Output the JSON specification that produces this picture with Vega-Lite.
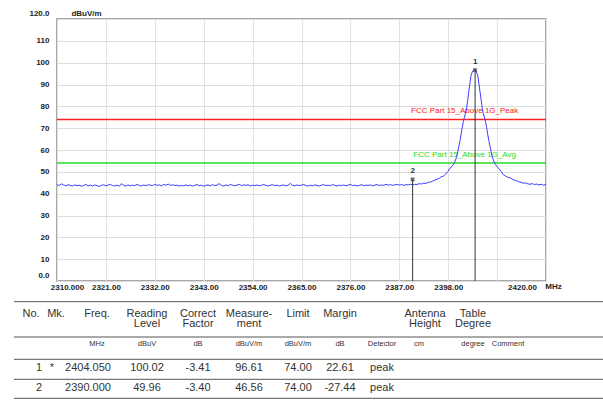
{
  "$schema": "https://vega.github.io/schema/vega-lite/v6.json",
  "padding": {"left": 13, "top": 8, "right": 0, "bottom": 0},
  "background": "white",
  "bounds": "flush",
  "spacing": 20,
  "config": {"font": "Liberation Sans", "view": {"stroke": null}, "axis": {"labelOverlap": false, "labelBound": false, "labelFlush": false}},
  "resolve": {"scale": {"x": "independent", "y": "independent"}},
  "datasets": {
    "trace": [
      {"f":2310,"v":44.2},{"f":2310.5,"v":43.7},{"f":2311,"v":44.5},{"f":2311.5,"v":44.0},{"f":2312,"v":43.6},{"f":2312.5,"v":44.1},{"f":2313,"v":43.8},{"f":2313.5,"v":43.5},{"f":2314,"v":44.0},{"f":2314.5,"v":43.7},
      {"f":2315,"v":43.9},{"f":2315.5,"v":43.4},{"f":2316,"v":43.8},{"f":2316.5,"v":44.2},{"f":2317,"v":43.6},{"f":2317.5,"v":43.9},{"f":2318,"v":43.5},{"f":2318.5,"v":44.0},{"f":2319,"v":43.7},{"f":2319.5,"v":43.3},
      {"f":2320,"v":43.8},{"f":2320.5,"v":44.1},{"f":2321,"v":43.6},{"f":2321.5,"v":43.9},{"f":2322,"v":44.3},{"f":2322.5,"v":43.7},{"f":2323,"v":43.5},{"f":2323.5,"v":43.9},{"f":2324,"v":43.4},{"f":2324.5,"v":44.6},
      {"f":2325,"v":43.8},{"f":2325.5,"v":43.5},{"f":2326,"v":44.0},{"f":2326.5,"v":43.6},{"f":2327,"v":43.9},{"f":2327.5,"v":43.7},{"f":2328,"v":44.2},{"f":2328.5,"v":43.8},{"f":2329,"v":43.5},{"f":2329.5,"v":44.0},
      {"f":2330,"v":43.6},{"f":2330.5,"v":44.1},{"f":2331,"v":43.9},{"f":2331.5,"v":43.7},{"f":2332,"v":44.3},{"f":2332.5,"v":43.8},{"f":2333,"v":44.0},{"f":2333.5,"v":43.6},{"f":2334,"v":44.2},{"f":2334.5,"v":43.9},
      {"f":2335,"v":44.4},{"f":2335.5,"v":43.8},{"f":2336,"v":44.1},{"f":2336.5,"v":43.7},{"f":2337,"v":43.9},{"f":2337.5,"v":43.5},{"f":2338,"v":43.8},{"f":2338.5,"v":43.6},{"f":2339,"v":44.0},{"f":2339.5,"v":43.7},
      {"f":2340,"v":43.9},{"f":2340.5,"v":43.5},{"f":2341,"v":43.8},{"f":2341.5,"v":44.2},{"f":2342,"v":43.6},{"f":2342.5,"v":43.9},{"f":2343,"v":43.4},{"f":2343.5,"v":43.8},{"f":2344,"v":44.0},{"f":2344.5,"v":43.6},
      {"f":2345,"v":44.1},{"f":2345.5,"v":43.7},{"f":2346,"v":43.9},{"f":2346.5,"v":44.6},{"f":2347,"v":43.8},{"f":2347.5,"v":43.5},{"f":2348,"v":44.0},{"f":2348.5,"v":43.7},{"f":2349,"v":44.2},{"f":2349.5,"v":43.9},
      {"f":2350,"v":43.6},{"f":2350.5,"v":43.9},{"f":2351,"v":44.3},{"f":2351.5,"v":43.7},{"f":2352,"v":44.0},{"f":2352.5,"v":43.8},{"f":2353,"v":44.1},{"f":2353.5,"v":43.5},{"f":2354,"v":43.9},{"f":2354.5,"v":43.7},
      {"f":2355,"v":44.0},{"f":2355.5,"v":43.6},{"f":2356,"v":43.9},{"f":2356.5,"v":44.2},{"f":2357,"v":43.8},{"f":2357.5,"v":43.5},{"f":2358,"v":43.9},{"f":2358.5,"v":44.1},{"f":2359,"v":43.7},{"f":2359.5,"v":43.9},
      {"f":2360,"v":43.5},{"f":2360.5,"v":43.8},{"f":2361,"v":44.0},{"f":2361.5,"v":43.6},{"f":2362,"v":43.9},{"f":2362.5,"v":44.7},{"f":2363,"v":43.8},{"f":2363.5,"v":43.6},{"f":2364,"v":44.0},{"f":2364.5,"v":43.7},
      {"f":2365,"v":43.9},{"f":2365.5,"v":44.2},{"f":2366,"v":43.7},{"f":2366.5,"v":43.5},{"f":2367,"v":43.9},{"f":2367.5,"v":43.6},{"f":2368,"v":44.0},{"f":2368.5,"v":43.8},{"f":2369,"v":43.5},{"f":2369.5,"v":43.9},
      {"f":2370,"v":44.1},{"f":2370.5,"v":43.7},{"f":2371,"v":43.9},{"f":2371.5,"v":43.6},{"f":2372,"v":44.2},{"f":2372.5,"v":43.8},{"f":2373,"v":43.5},{"f":2373.5,"v":43.9},{"f":2374,"v":43.7},{"f":2374.5,"v":44.0},
      {"f":2375,"v":43.6},{"f":2375.5,"v":43.9},{"f":2376,"v":44.3},{"f":2376.5,"v":43.7},{"f":2377,"v":43.9},{"f":2377.5,"v":43.5},{"f":2378,"v":43.8},{"f":2378.5,"v":44.1},{"f":2379,"v":43.7},{"f":2379.5,"v":43.9},
      {"f":2380,"v":43.8},{"f":2380.5,"v":44.0},{"f":2381,"v":43.6},{"f":2381.5,"v":43.9},{"f":2382,"v":44.2},{"f":2382.5,"v":43.7},{"f":2383,"v":44.0},{"f":2383.5,"v":43.8},{"f":2384,"v":44.3},{"f":2384.5,"v":43.9},
      {"f":2385,"v":44.1},{"f":2385.5,"v":43.8},{"f":2386,"v":44.0},{"f":2386.5,"v":44.3},{"f":2387,"v":43.9},{"f":2387.5,"v":44.2},{"f":2388,"v":43.8},{"f":2388.5,"v":44.1},{"f":2389,"v":44.0},{"f":2389.5,"v":44.3},
      {"f":2390,"v":44.0},{"f":2390.5,"v":44.3},{"f":2391,"v":44.2},{"f":2391.5,"v":44.6},{"f":2392,"v":44.4},{"f":2392.5,"v":44.8},{"f":2393,"v":44.7},{"f":2393.5,"v":45.2},{"f":2394,"v":45.3},{"f":2394.5,"v":45.8},
      {"f":2395,"v":46.2},{"f":2395.5,"v":46.6},{"f":2396,"v":47.1},{"f":2396.4,"v":47.7},{"f":2396.9,"v":48.0},{"f":2397.4,"v":48.9},{"f":2397.9,"v":50.1},{"f":2398.4,"v":51.6},{"f":2398.9,"v":52.6},{"f":2399.15,"v":53.3},
      {"f":2399.4,"v":54.2},{"f":2399.65,"v":55.4},{"f":2399.9,"v":57.0},{"f":2400.15,"v":59.2},{"f":2400.4,"v":61.8},{"f":2400.65,"v":64.1},{"f":2400.9,"v":67.2},{"f":2401.15,"v":70.2},{"f":2401.4,"v":73.0},{"f":2401.65,"v":74.9},
      {"f":2401.9,"v":76.9},{"f":2402.15,"v":79.4},{"f":2402.4,"v":83.0},{"f":2402.65,"v":87.0},{"f":2402.9,"v":90.8},{"f":2403.15,"v":94.3},{"f":2403.4,"v":95.6},{"f":2403.65,"v":96.5},{"f":2403.9,"v":97.0},{"f":2404.15,"v":96.4},
      {"f":2404.4,"v":95.5},{"f":2404.65,"v":94.0},{"f":2404.9,"v":90.5},{"f":2405.15,"v":86.8},{"f":2405.4,"v":83.2},{"f":2405.65,"v":79.1},{"f":2405.9,"v":76.6},{"f":2406.15,"v":75.1},{"f":2406.4,"v":72.8},{"f":2406.65,"v":70.4},
      {"f":2406.9,"v":67.0},{"f":2407.15,"v":64.3},{"f":2407.4,"v":61.6},{"f":2407.65,"v":59.4},{"f":2407.9,"v":56.8},{"f":2408.15,"v":55.6},{"f":2408.4,"v":54.1},{"f":2408.65,"v":53.4},{"f":2408.9,"v":52.5},{"f":2409.4,"v":51.5},
      {"f":2409.9,"v":50.2},{"f":2410.4,"v":48.7},{"f":2410.9,"v":48.1},{"f":2411.4,"v":47.5},{"f":2411.9,"v":47.3},{"f":2412.4,"v":46.6},{"f":2412.9,"v":46.2},{"f":2413.4,"v":45.9},{"f":2413.9,"v":45.4},{"f":2414.4,"v":45.2},
      {"f":2414.9,"v":44.8},{"f":2415.4,"v":44.9},{"f":2415.9,"v":44.5},{"f":2416.4,"v":44.3},{"f":2416.9,"v":44.6},{"f":2417.4,"v":44.2},{"f":2417.9,"v":44.4},{"f":2418.4,"v":44.0},{"f":2418.9,"v":44.3},{"f":2419.4,"v":43.9},
      {"f":2420,"v":44.2}
    ],
    "limits": [
      {"name": "FCC Part 15_Above 1G_Peak", "lim": 74},
      {"name": "FCC Part 15_Above 1G_Avg", "lim": 54}
    ],
    "markers": [
      {"mk": "1", "f": 2404.05, "v": 96.61},
      {"mk": "2", "f": 2390.0, "v": 46.56}
    ],
    "lines": [{"r": 0}, {"r": 3}, {"r": 5}, {"r": 7}, {"r": 9}],
    "cells": [
      {"r": 1, "c": 1, "t": "No."}, {"r": 1, "c": 4, "t": "Mk."}, {"r": 1, "c": 6, "t": "Freq."},
      {"r": 1, "c": 7, "t": "Reading"}, {"r": 1, "c": 8, "t": "Correct"}, {"r": 1, "c": 9, "t": "Measure-"},
      {"r": 1, "c": 10, "t": "Limit"}, {"r": 1, "c": 11, "t": "Margin"}, {"r": 1, "c": 14, "t": "Antenna"},
      {"r": 1, "c": 15, "t": "Table"},
      {"r": 2, "c": 7, "t": "Level"}, {"r": 2, "c": 8, "t": "Factor"}, {"r": 2, "c": 9, "t": "ment"},
      {"r": 2, "c": 14, "t": "Height"}, {"r": 2, "c": 15, "t": "Degree"},
      {"r": 4, "c": 6, "t": "MHz"}, {"r": 4, "c": 7, "t": "dBuV"}, {"r": 4, "c": 8, "t": "dB"},
      {"r": 4, "c": 9, "t": "dBuV/m"}, {"r": 4, "c": 10, "t": "dBuV/m"}, {"r": 4, "c": 11, "t": "dB"},
      {"r": 4, "c": 12, "t": "Detector"}, {"r": 4, "c": 13, "t": "cm"}, {"r": 4, "c": 15, "t": "degree"},
      {"r": 4, "c": 16, "t": "Comment"},
      {"r": 6, "c": 2, "t": "1"}, {"r": 6, "c": 3, "t": "*"}, {"r": 6, "c": 5, "t": "2404.050"},
      {"r": 6, "c": 7, "t": "100.02"}, {"r": 6, "c": 8, "t": "-3.41"}, {"r": 6, "c": 9, "t": "96.61"},
      {"r": 6, "c": 10, "t": "74.00"}, {"r": 6, "c": 11, "t": "22.61"}, {"r": 6, "c": 12, "t": "peak"},
      {"r": 8, "c": 2, "t": "2"}, {"r": 8, "c": 5, "t": "2390.000"},
      {"r": 8, "c": 7, "t": "49.96"}, {"r": 8, "c": 8, "t": "-3.40"}, {"r": 8, "c": 9, "t": "46.56"},
      {"r": 8, "c": 10, "t": "74.00"}, {"r": 8, "c": 11, "t": "-27.44"}, {"r": 8, "c": 12, "t": "peak"}
    ]
  },
  "vconcat": [
    {
      "width": 489,
      "height": 262,
      "view": {"stroke": "#8c8c8c", "strokeWidth": 1.5},
      "layer": [
        {
          "data": {"name": "limits"},
          "mark": {"type": "rule", "strokeWidth": 1.5},
          "encoding": {
            "y": {"field": "lim", "type": "quantitative",
              "scale": {"domain": [0, 120], "nice": false},
              "axis": {
                "values": [0, 10, 20, 30, 40, 50, 60, 70, 80, 90, 100, 110, 120],
                "tickCount": 13,
                "labelExpr": "datum.value == 0 ? '0.0' : datum.value == 120 ? '120.0' : format(datum.value, 'd')",
                "labelOverlap": false, "labelBound": false, "labelFlush": false,
                "ticks": false, "domain": false,
                "grid": true, "gridColor": "#dcdcdc", "gridWidth": 1,
                "labelFontSize": 8, "labelFontWeight": "bold", "labelColor": "#222222", "labelPadding": 8,
                "labelAlign": "right", "labelBaseline": "middle",
                "labelOffset": {"condition": {"test": "datum.value == 0 || datum.value == 120", "value": -6}, "value": 0},
                "title": "dBuV/m", "titleAngle": 0, "titleX": 29, "titleY": -6, "titleAlign": "center", "titleBaseline": "middle",
                "titleFontSize": 8, "titleFontWeight": "bold", "titleColor": "#222222"
              }
            },
            "color": {"field": "name", "type": "nominal", "legend": null,
              "scale": {"domain": ["FCC Part 15_Above 1G_Peak", "FCC Part 15_Above 1G_Avg"], "range": ["#ff2020", "#22dd22"]}}
          }
        },
        {
          "data": {"name": "limits"},
          "mark": {"type": "text", "fontSize": 8, "dy": -8, "align": "center", "baseline": "middle"},
          "encoding": {
            "x": {"datum": 2401.7, "type": "quantitative"},
            "y": {"field": "lim", "type": "quantitative"},
            "text": {"field": "name"},
            "color": {"field": "name", "type": "nominal", "legend": null}
          }
        },
        {
          "data": {"name": "trace"},
          "mark": {"type": "line", "color": "#3c3cff", "strokeWidth": 1},
          "encoding": {
            "x": {"field": "f", "type": "quantitative",
              "scale": {"domain": [2310, 2420], "nice": false, "zero": false},
              "axis": {
                "values": [2310, 2321, 2332, 2343, 2354, 2365, 2376, 2387, 2398, 2409, 2420],
                "labelExpr": "datum.value == 2310 ? '2310.000' : datum.value == 2409 ? '' : format(datum.value, '.2f')",
                "labelOverlap": false, "labelBound": false, "labelFlush": false,
                "ticks": false, "domain": false,
                "grid": true, "gridColor": "#e2e2e2", "gridWidth": 1,
                "labelFontSize": 8, "labelFontWeight": "bold", "labelColor": "#222222", "labelPadding": 2,
                "labelOffset": {"condition": [{"test": "datum.value == 2310", "value": 10}, {"test": "datum.value == 2420", "value": -24}], "value": 0},
                "title": "MHz", "titleX": 496, "titleY": 5, "titleAlign": "center", "titleBaseline": "middle",
                "titleFontSize": 8, "titleFontWeight": "bold", "titleColor": "#222222"
              }
            },
            "y": {"field": "v", "type": "quantitative"}
          }
        },
        {
          "data": {"name": "markers"},
          "mark": {"type": "rule", "color": "#333333", "strokeWidth": 1},
          "encoding": {
            "x": {"field": "f", "type": "quantitative"},
            "y": {"field": "v", "type": "quantitative"},
            "y2": {"datum": 0}
          }
        },
        {
          "data": {"name": "markers"},
          "mark": {"type": "point", "shape": "cross", "angle": 45, "size": 22, "filled": true, "color": "#333333"},
          "encoding": {
            "x": {"field": "f", "type": "quantitative"},
            "y": {"field": "v", "type": "quantitative"}
          }
        },
        {
          "data": {"name": "markers"},
          "mark": {"type": "text", "fontSize": 8, "fontWeight": "bold", "dy": -8, "color": "#333333"},
          "encoding": {
            "x": {"field": "f", "type": "quantitative"},
            "y": {"field": "v", "type": "quantitative"},
            "text": {"field": "mk"}
          }
        }
      ]
    },
    {
      "width": 489,
      "height": 98,
      "layer": [
        {
          "data": {"name": "lines"},
          "mark": {"type": "rule", "color": "#555555", "strokeWidth": 1},
          "encoding": {
            "y": {"field": "r", "type": "quantitative", "axis": null,
              "scale": {"domain": [0, 1, 2, 3, 4, 5, 6, 7, 8, 9], "range": [0.7, 12.7, 23.3, 36, 43.3, 58.3, 67.3, 78.3, 86.7, 97.3], "nice": false, "zero": false}},
            "x": {"datum": 0, "type": "quantitative", "axis": null,
              "scale": {"domain": [0, 1, 2, 3, 4, 5, 6, 7, 8, 9, 10, 11, 12, 13, 14, 15, 16, 17], "range": [-43, -26, -18, -5, -1, 31, 40, 90, 141, 192, 241, 283, 325, 362, 368, 416, 451, 547], "nice": false, "zero": false}},
            "x2": {"datum": 17}
          }
        },
        {
          "data": {"name": "cells"},
          "transform": [{"filter": "datum.r <= 2"}],
          "mark": {"type": "text", "fontSize": 11, "color": "#333333", "align": "center", "baseline": "middle"},
          "encoding": {
            "x": {"field": "c", "type": "quantitative"},
            "y": {"field": "r", "type": "quantitative"},
            "text": {"field": "t"}
          }
        },
        {
          "data": {"name": "cells"},
          "transform": [{"filter": "datum.r == 4"}],
          "mark": {"type": "text", "fontSize": 7.5, "color": "#333333", "align": "center", "baseline": "middle"},
          "encoding": {
            "x": {"field": "c", "type": "quantitative"},
            "y": {"field": "r", "type": "quantitative"},
            "text": {"field": "t"}
          }
        },
        {
          "data": {"name": "cells"},
          "transform": [{"filter": "datum.r >= 6"}],
          "mark": {"type": "text", "fontSize": 11, "color": "#333333", "align": "center", "baseline": "middle"},
          "encoding": {
            "x": {"field": "c", "type": "quantitative"},
            "y": {"field": "r", "type": "quantitative"},
            "text": {"field": "t"}
          }
        }
      ]
    }
  ]
}
